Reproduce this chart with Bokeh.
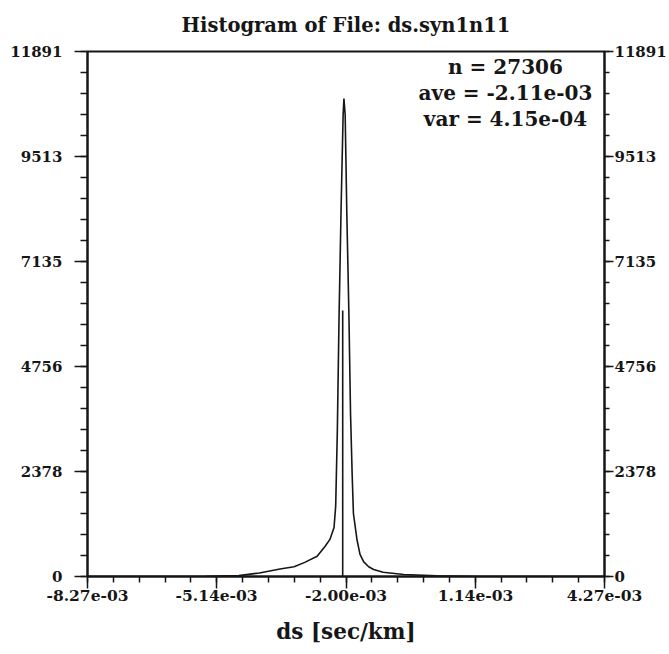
import numpy as np
from bokeh.plotting import figure
from bokeh.models import Range1d, LinearAxis, FixedTicker, Label, Title, CustomJSTickFormatter
from bokeh.embed import file_html
from bokeh.resources import INLINE

# ---- data ----
title_text = "Histogram of File: ds.syn1n11"
x_label = "ds [sec/km]"
x_tick_values = [-8.27e-3, -5.14e-3, -2.00e-3, 1.14e-3, 4.27e-3]
x_tick_labels = ["-8.27e-03", "-5.14e-03", "-2.00e-03", "1.14e-03", "4.27e-03"]
y_tick_values = [0, 2378, 4756, 7135, 9513, 11891]
y_tick_labels = ["0", "2378", "4756", "7135", "9513", "11891"]

# histogram curve: ds (in units of 1e-3 sec/km) and counts
ds_milli = [-8.27, -6.50, -5.40, -4.60, -4.10, -3.60, -3.26, -3.00, -2.70, -2.51,
            -2.39, -2.29, -2.25, -2.21, -2.17, -2.12, -2.07, -2.05,
            -2.02, -1.98, -1.93, -1.89, -1.85, -1.82, -1.73, -1.66, -1.57,
            -1.45, -1.33, -1.10, -0.60, 0.20, 1.20, 4.27]
counts = [0, 0, 5, 20, 80, 170, 220, 320, 460, 680,
          840, 1110, 1600, 3300, 5800, 8300, 10450, 10827,
          10450, 8222, 5957, 3692, 2300, 1427, 815, 500, 330,
          220, 160, 95, 45, 15, 0, 0]

marker_ds_milli = [-2.08]
marker_count = [6025]

stats_lines = ["n = 27306", "ave = -2.11e-03", "var = 4.15e-04"]

# ---- figure ----
FONT = "DejaVu Serif"
INK = "#161616"
W, H = 669, 654
BL, BR, BT, BB = 87, 64, 51, 78

ds = np.array(ds_milli) * 1e-3
mx = np.array(marker_ds_milli) * 1e-3

p = figure(width=W, height=H, output_backend="svg", toolbar_location=None,
           x_range=Range1d(x_tick_values[0], x_tick_values[-1]),
           y_range=Range1d(y_tick_values[0], y_tick_values[-1]),
           min_border_left=BL, min_border_right=BR, min_border_top=BT, min_border_bottom=BB)
p.background_fill_color = "white"
p.border_fill_color = "white"
p.grid.visible = False
p.outline_line_color = INK
p.outline_line_width = 2
p.outline_line_alpha = 1

p.title = Title(text=title_text, align="center", vertical_align="top",
                text_font=FONT, text_font_size="19.5px",
                text_font_style="bold", text_color=INK, standoff=26)

# x axis
xminor = list(np.linspace(x_tick_values[0], x_tick_values[-1], 21))
xa = p.xaxis[0]
xa.ticker = FixedTicker(ticks=x_tick_values, minor_ticks=xminor)
xa.formatter = CustomJSTickFormatter(args=dict(tvals=x_tick_values, tlabels=x_tick_labels),
    code="const i = tvals.findIndex(t => Math.abs(t - tick) < 1e-9); return i >= 0 ? tlabels[i] : '';")
xa.axis_label = x_label
xa.axis_label_text_font = FONT
xa.axis_label_text_font_size = "21.5px"
xa.axis_label_text_font_style = "bold"
xa.axis_label_text_color = INK
xa.axis_label_standoff = 15
xa.major_label_text_font = FONT
xa.major_label_text_font_size = "15.5px"
xa.major_label_text_font_style = "bold"
xa.major_label_text_color = INK
xa.major_label_standoff = 1
xa.axis_line_color = INK
xa.axis_line_width = 2
xa.major_tick_line_color = INK
xa.major_tick_line_width = 1.5
xa.minor_tick_line_color = INK
xa.minor_tick_line_width = 1.5
xa.major_tick_in = 0
xa.major_tick_out = 12
xa.minor_tick_in = 0
xa.minor_tick_out = 6

# y axes
yminor = list(np.linspace(y_tick_values[0], y_tick_values[-1], 26))

def style_y(ax, tick_out, minor_out, standoff):
    ax.ticker = FixedTicker(ticks=y_tick_values, minor_ticks=yminor)
    ax.formatter = CustomJSTickFormatter(args=dict(tvals=y_tick_values, tlabels=y_tick_labels),
        code="const i = tvals.findIndex(t => Math.abs(t - tick) < 1e-6); return i >= 0 ? tlabels[i] : '';")
    ax.major_label_text_font = FONT
    ax.major_label_text_font_size = "15px"
    ax.major_label_text_font_style = "bold"
    ax.major_label_text_color = INK
    ax.major_label_standoff = standoff
    ax.axis_line_color = INK
    ax.axis_line_width = 2
    ax.major_tick_line_color = INK
    ax.major_tick_line_width = 1.5
    ax.minor_tick_line_color = INK
    ax.minor_tick_line_width = 1.5
    ax.major_tick_in = 0
    ax.major_tick_out = tick_out
    ax.minor_tick_in = 0
    ax.minor_tick_out = minor_out

style_y(p.yaxis[0], 13, 7, 12)
ra = LinearAxis()
style_y(ra, 9, 5, 1)
p.add_layout(ra, "right")

# curve
p.line(ds, counts, line_color=INK, line_width=1.6)
p.segment(x0=mx, y0=[0] * len(mx), x1=mx, y1=marker_count, line_color=INK, line_width=1.6)

# stats
frame_h = H - BT - BB
for i, s in enumerate(stats_lines):
    p.add_layout(Label(x=418, y=frame_h - 15 - 26 * i, x_units="screen", y_units="screen",
                       text=s, text_align="center", text_baseline="middle",
                       text_font=FONT, text_font_size="20px", text_font_style="bold",
                       text_color=INK))

open("out.html", "w").write(file_html(p, INLINE))
